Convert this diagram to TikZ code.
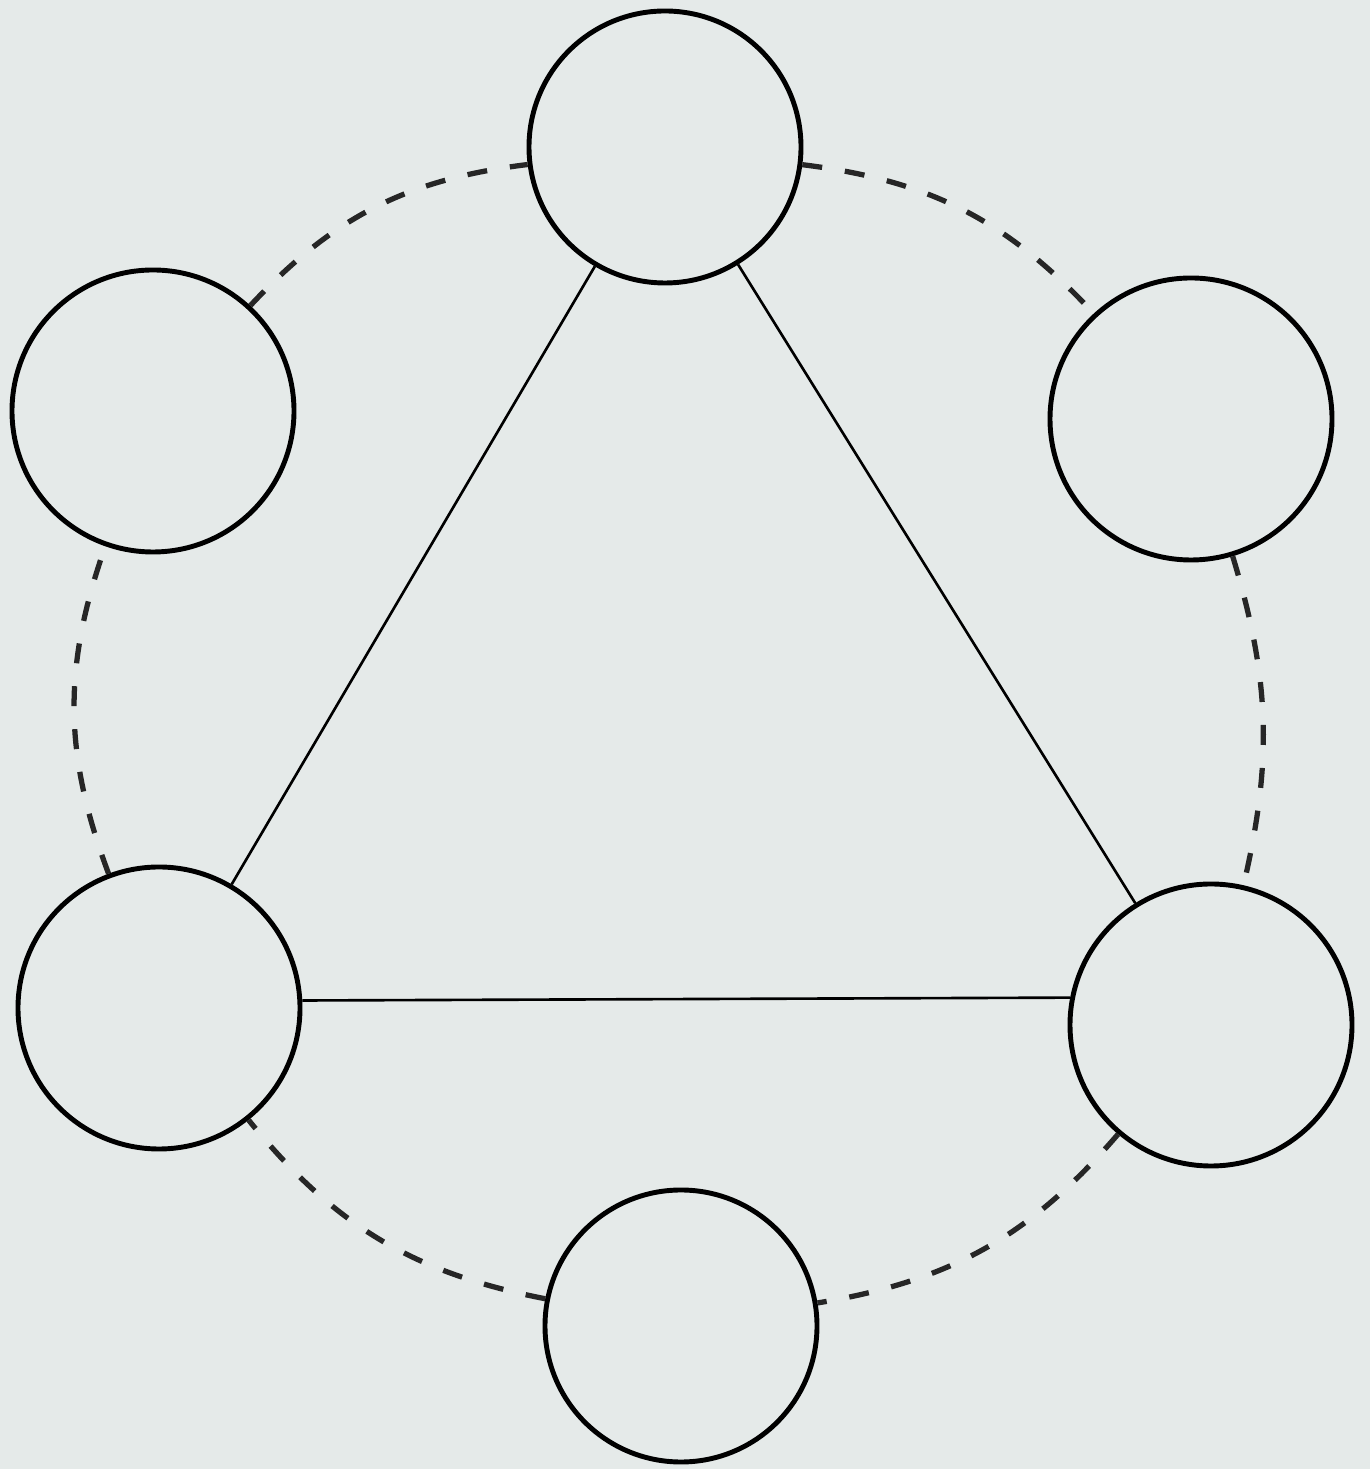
\documentclass[tikz,border=0pt]{standalone}
\definecolor{paper}{RGB}{229,234,233}
\begin{document}
\begin{tikzpicture}[
    ring/.style={draw, circle, line width=1.4pt, minimum size=2.82cm, inner sep=0pt},
    side/.style={line width=0.75pt},
    rim/.style={line width=1.5pt, black!85, dash pattern=on 0.2cm off 0.23cm}]
    \fill[paper] (0,0) rectangle (13.7,14.69);

    \node[ring, minimum size=2.72cm] (t) at (6.65,13.22) {};
    \node[ring] (tl) at (1.53,10.58) {};
    \node[ring] (tr) at (11.91,10.50) {};
    \node[ring] (bl) at (1.59,4.61) {};
    \node[ring] (br) at (12.11,4.44) {};
    \node[ring, minimum size=2.72cm] (b) at (6.81,1.43) {};

    \draw[side] (t) -- (bl);
    \draw[side] (t) -- (br);
    \draw[side] (bl.3) -- (br.169);

    \foreach \a/\b/\k in {tl/t/20, t/tr/20, tr/br/15, br/b/20, b/bl/20, bl/tl/20}
        \draw[rim] (\a) to[bend left=\k] (\b); % dashed ring
\end{tikzpicture}
\end{document}
